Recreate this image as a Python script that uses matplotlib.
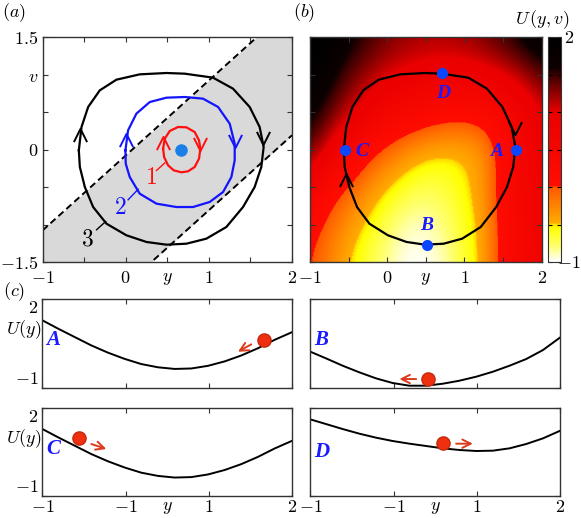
import numpy as np
import matplotlib
matplotlib.use('Agg')
import matplotlib.pyplot as plt
from matplotlib.colors import LinearSegmentedColormap
from matplotlib.path import Path

plt.rcParams['mathtext.fontset'] = 'cm'
plt.rcParams['font.family'] = 'serif'
plt.rcParams['font.size'] = 13

# ---- data ----
# limit cycle, curve 3 in (a) and the cycle in (b)
cyc_y = [-0.563, -0.531, -0.451, -0.311, -0.111, 0.169, 0.490, 0.710, 1.050, 1.291, 1.491,
         1.611, 1.659, 1.631, 1.551, 1.411, 1.211, 0.970, 0.730, 0.490, 0.250, 0.009,
         -0.231, -0.391, -0.491, -0.551, -0.563]
cyc_v = [-0.011, 0.300, 0.567, 0.789, 0.931, 1.002, 1.020, 1.011, 0.958, 0.811, 0.567,
         0.300, 0.033, -0.233, -0.500, -0.767, -1.033, -1.189, -1.256, -1.269, -1.233,
         -1.144, -0.989, -0.767, -0.500, -0.233, -0.011]

# curve 2 (blue)
c2_y = [-0.003, 0.029, 0.129, 0.290, 0.490, 0.710, 0.930, 1.111, 1.251, 1.311, 1.311,
        1.271, 1.171, 1.010, 0.810, 0.610, 0.370, 0.169, 0.049, 0.001, -0.003]
c2_v = [-0.011, 0.256, 0.478, 0.633, 0.691, 0.700, 0.678, 0.567, 0.344, 0.078, -0.144,
        -0.367, -0.567, -0.700, -0.767, -0.767, -0.722, -0.589, -0.367, -0.189, -0.011]

# curve 1 (red)
c1_y = [0.450, 0.470, 0.530, 0.630, 0.730, 0.830, 0.882, 0.898, 0.882, 0.830, 0.750,
        0.670, 0.578, 0.510, 0.462, 0.450]
c1_v = [0.011, 0.144, 0.247, 0.300, 0.296, 0.233, 0.122, 0.011, -0.122, -0.233, -0.291,
        -0.304, -0.278, -0.211, -0.100, 0.011]

fixed_pt = (0.67, 0.0)

# direction marks (y, v) on the orbits
up_marks_a = {'k': (-0.552, 0.19), 'b': (0.0, 0.13), 'r': (0.452, 0.09)}
down_marks_a = {'k': (1.652, 0.15), 'b': (1.311, 0.11), 'r': (0.894, 0.07)}
up_mark_b = (-0.535, -0.40)
down_mark_b = (1.652, 0.29)

# dashed lines bounding the grey band
band_y = [-1.0, 2.0]
band_hi = [-1.08, 1.92]
band_lo = [-2.81, 0.19]

# U(y, v) read on a coarse grid
grid_y = [-1.0, -0.75, -0.5, -0.25, 0.0, 0.25, 0.5, 0.75, 1.0, 1.25, 1.5, 1.75, 2.0]
grid_v = [-1.5, -1.0, -0.5, 0.0, 0.5, 1.0, 1.5]
U_grid = [
    [0.05, -0.25, -0.5, -0.7, -0.85, -1.0, -1.0, -0.9, -0.65, -0.45, 0.2, 0.45, 0.7],
    [0.15, -0.1, -0.35, -0.55, -0.75, -0.9, -0.92, -0.8, -0.62, -0.42, 0.2, 0.45, 0.75],
    [0.7, 0.2, -0.05, -0.3, -0.5, -0.65, -0.72, -0.68, -0.55, -0.35, 0.25, 0.5, 0.8],
    [1.4, 0.95, 0.55, 0.15, -0.1, -0.3, -0.45, -0.5, -0.48, -0.35, 0.2, 0.55, 0.9],
    [1.7, 1.4, 1.1, 0.85, 0.6, 0.45, 0.3, 0.2, 0.15, 0.25, 0.45, 0.7, 1.0],
    [2.0, 1.7, 1.4, 1.2, 1.05, 0.95, 0.9, 0.85, 0.85, 0.9, 1.0, 1.15, 1.4],
    [2.0, 1.95, 1.7, 1.5, 1.35, 1.25, 1.2, 1.2, 1.25, 1.35, 1.5, 1.7, 1.9],
]

# points A-D on the cycle
pt_names = ['A', 'B', 'C', 'D']
pt_y = [1.667, 0.51, -0.547, 0.713]
pt_v = [0.0, -1.27, 0.0, 1.02]
lab_y = [1.415, 0.51, -0.33, 0.73]
lab_v = [-0.03, -1.02, -0.03, 0.75]

# potential profiles U(y) in (c)
prof_y = [-1.0, -0.812, -0.612, -0.411, -0.211, -0.011, 0.189, 0.390, 0.590, 0.790,
          0.991, 1.191, 1.391, 1.591, 1.792, 2.0]
U_v0 = [1.28, 1.0, 0.715, 0.43, 0.185, -0.025, -0.2, -0.31, -0.365, -0.35, -0.26,
        -0.11, 0.09, 0.335, 0.62, 0.878]
U_B = [0.218, -0.007, -0.256, -0.481, -0.684, -0.842, -0.932, -0.932, -0.865, -0.763,
       -0.628, -0.459, -0.256, -0.030, 0.274, 0.703]
U_D = [1.605, 1.447, 1.278, 1.12, 0.985, 0.872, 0.782, 0.703, 0.624, 0.568, 0.534,
       0.545, 0.624, 0.771, 0.962, 1.222]

# balls and their arrows: (y, U), arrow start, arrow end
ball = {'A': (1.659, 0.613), 'B': (0.41, -0.707), 'C': (-0.563, 0.962), 'D': (0.59, 0.816)}
arr_from = {'A': (1.511, 0.466), 'B': (0.27, -0.707), 'C': (-0.411, 0.77), 'D': (0.75, 0.782)}
arr_to = {'A': (1.351, 0.218), 'B': (0.069, -0.707), 'C': (-0.231, 0.602), 'D': (0.95, 0.782)}
letter_pos = {'A': 0.54, 'B': 0.54, 'C': 0.53, 'D': 0.50}

# ---- colours ----
red = '#ff1010'
blue = '#1414ff'
cols = {'k': 'k', 'b': blue, 'r': red}
ball_col = '#ee3010'
arrow_col = '#dd3a1a'
letter_col = '#1a1aff'
spine_col = '#333333'

cmap = LinearSegmentedColormap.from_list('U', [
    (0.0, (1, 1, 1)),
    (0.0667, (1, 1, 0.45)),
    (0.15, (1, 1, 0)),
    (0.1667, (1, 0.85, 0)),
    (0.17, (1, 0.68, 0)),
    (0.33, (1, 0.35, 0)),
    (0.3367, (1, 0.05, 0)),
    (0.6667, (0.92, 0, 0)),
    (0.8333, (0.22, 0, 0)),
    (0.8667, (0.05, 0, 0)),
    (1.0, (0, 0, 0)),
])

# open chevron markers
chev_up = Path([(-0.5, -0.5), (0.0, 0.5), (0.5, -0.5)],
               [Path.MOVETO, Path.LINETO, Path.LINETO])
chev_down = Path([(-0.5, 0.5), (0.0, -0.5), (0.5, 0.5)],
                 [Path.MOVETO, Path.LINETO, Path.LINETO])

fig = plt.figure(figsize=(5.81, 5.18), dpi=100)
W, H = 581.0, 518.0


def px_axes(x0, y0, x1, y1):
    return fig.add_axes([x0 / W, 1 - y1 / H, (x1 - x0) / W, (y1 - y0) / H])


def style(ax, xpad=5):
    for s in ax.spines.values():
        s.set_color(spine_col)
        s.set_linewidth(1.0)
    ax.tick_params(direction='in', top=True, right=True, length=3.5, width=0.8,
                   color=spine_col, pad=3)
    ax.tick_params(axis='x', pad=xpad)


def chevron(ax, pos, path, col):
    ax.plot(*pos, marker=path, ms=9.5, mfc='none', mec=col, mew=1.4, ls='none')


ticks_y = [-1, -0.5, 0, 0.5, 1, 1.5, 2]
ticks_y_lab = ['$-1$', '', '$0$', '$y$', '$1$', '', '$2$']
ticks_v = [-1.5, -1, -0.5, 0, 0.5, 1, 1.5]
ticks_v_lab = ['$-1.5$', '', '', '$0$', '', '$v$', '$1.5$']

# ---- panel (a) ----
ax = px_axes(42.5, 37, 292, 262)
ax.fill_between(band_y, band_lo, band_hi, color='#d9d9d9', lw=0)
ax.plot(band_y, band_hi, 'k--', lw=1.4, dashes=(3.5, 2))
ax.plot(band_y, band_lo, 'k--', lw=1.4, dashes=(3.5, 2))
ax.plot(cyc_y, cyc_v, 'k', lw=1.6)
ax.plot(c2_y, c2_v, color=blue, lw=1.6)
ax.plot(c1_y, c1_v, color=red, lw=1.6)
ax.plot(*fixed_pt, 'o', color='#1a7fe6', ms=8)
for c in 'kbr':
    chevron(ax, up_marks_a[c], chev_up, cols[c])
    chevron(ax, down_marks_a[c], chev_down, cols[c])
ax.plot([0.37, 0.47], [-0.28, -0.18], color=red, lw=1)
ax.text(0.31, -0.37, '$1$', color=red, fontsize=17, ha='center', va='center')
ax.plot([0.03, 0.15], [-0.67, -0.53], color=blue, lw=1)
ax.text(-0.07, -0.77, '$2$', color=blue, fontsize=17, ha='center', va='center')
ax.plot([-0.35, -0.24], [-1.07, -0.96], 'k', lw=1)
ax.text(-0.46, -1.2, '$3$', color='k', fontsize=17, ha='center', va='center')
ax.set_xlim(-1, 2)
ax.set_ylim(-1.5, 1.5)
ax.set_xticks(ticks_y)
ax.set_xticklabels(ticks_y_lab)
ax.set_yticks(ticks_v)
ax.set_yticklabels(ticks_v_lab)
style(ax)

# ---- panel (b) ----
bx = px_axes(310, 37, 541.7, 262)
gy = np.array(grid_y)
gv = np.array(grid_v)
dy = (gy[1] - gy[0]) / 2
dv = (gv[1] - gv[0]) / 2
im = bx.imshow(np.array(U_grid), origin='lower', cmap=cmap, vmin=-1, vmax=2,
               extent=[gy[0] - dy, gy[-1] + dy, gv[0] - dv, gv[-1] + dv],
               aspect='auto', interpolation='bicubic', interpolation_stage='data')
bx.plot(cyc_y, cyc_v, 'k', lw=1.6)
chevron(bx, down_mark_b, chev_down, 'k')
chevron(bx, up_mark_b, chev_up, 'k')
bx.plot(pt_y, pt_v, 'o', color='#0a46ff', ms=7)
for n, x, y in zip(pt_names, lab_y, lab_v):
    bx.text(x, y, n, color=letter_col, fontsize=14, fontweight='bold', fontstyle='italic',
            family='Liberation Serif', ha='center', va='center')
bx.set_xlim(-1, 2)
bx.set_ylim(-1.5, 1.5)
bx.set_xticks(ticks_y)
bx.set_xticklabels(ticks_y_lab)
bx.set_yticks(ticks_v)
bx.set_yticklabels([])
style(bx)

cax = px_axes(547.5, 37, 560.5, 262)
cb = fig.colorbar(im, cax=cax, ticks=[-1, -0.5, 0, 0.5, 1, 1.5, 2])
cb.outline.set_edgecolor(spine_col)
cax.tick_params(direction='in', left=True, right=True, length=3, color='k',
                labelright=False)
fig.text(564 / W, 1 - 38 / H, '$2$', ha='left', va='center')
fig.text(581 / W, 1 - 263 / H, '$-1$', ha='right', va='center')
fig.text(570 / W, 1 - 20 / H, r'$U\,(y,v)$', ha='right', va='center')

# ---- panel (c) ----
boxes = {'A': (42.3, 299, 292, 387.7), 'C': (42.3, 407.7, 292, 496.3),
         'B': (310.3, 299, 560.3, 387.7), 'D': (310.3, 407.7, 560.3, 496.3)}
profiles = {'A': U_v0, 'C': U_v0, 'B': U_B, 'D': U_D}
for n in ['A', 'B', 'C', 'D']:
    cx = px_axes(*boxes[n])
    cx.plot(prof_y, profiles[n], 'k', lw=1.4)
    cx.annotate('', xy=arr_to[n], xytext=arr_from[n],
                arrowprops=dict(arrowstyle='->,head_length=0.5,head_width=0.25',
                                color=arrow_col, lw=1.4, mutation_scale=12,
                                shrinkA=0, shrinkB=0))
    cx.plot(*ball[n], 'o', ms=9.5, mfc=ball_col, mec='#c42a0c', mew=1)
    cx.text(0.015, letter_pos[n], n, transform=cx.transAxes, color=letter_col,
            fontsize=15, fontweight='bold', fontstyle='italic',
            family='Liberation Serif', ha='left', va='center')
    cx.set_xlim(-1, 2)
    cx.set_ylim(-1, 2)
    cx.set_xticks([-1, 0, 1, 2])
    cx.set_yticks([-1, 2])
    style(cx, xpad=1.5)
    if n in ['A', 'C']:
        labs = cx.set_yticklabels(['$-1$', '$2$'])
        labs[0].set_va('bottom')
        labs[1].set_va('top')
        cx.text(-0.005, 0.65, '$U(y)$', transform=cx.transAxes, ha='right', va='center')
    else:
        cx.set_yticklabels([])
    if n in ['C', 'D']:
        cx.set_xticklabels(['$-1$', '$-1$', '$1$', '$2$'])
        cx.text(0.5, -0.02, '$y$', transform=cx.transAxes, ha='center', va='top')
    else:
        cx.set_xticklabels([])

fig.text(14 / W, 1 - 13 / H, '$(a)$', ha='center', va='center')
fig.text(304 / W, 1 - 13 / H, '$(b)$', ha='center', va='center')
fig.text(14 / W, 1 - 292 / H, '$(c)$', ha='center', va='center')

fig.savefig('out.png', dpi=100)
